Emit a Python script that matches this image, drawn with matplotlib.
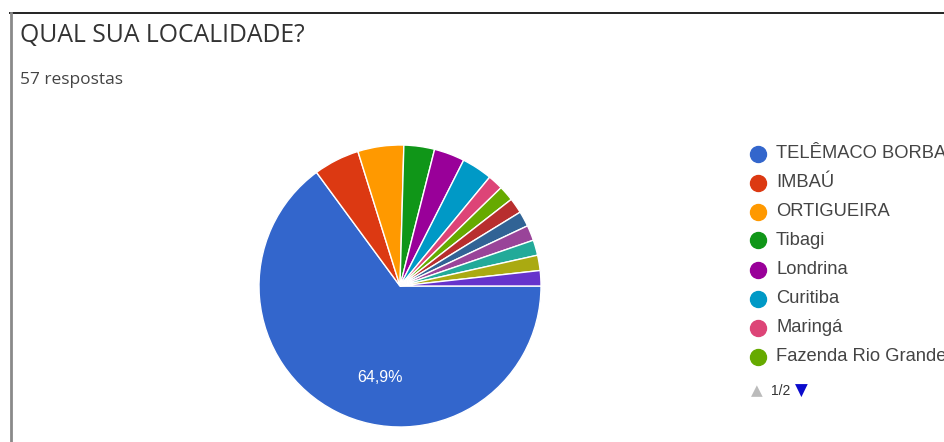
import matplotlib.pyplot as plt
from matplotlib.lines import Line2D

# respostas por localidade (57 no total)
contagens = [37, 3, 3, 2, 2, 2, 1, 1, 1, 1, 1, 1, 1, 1]
cores = ["#3366cc", "#dc3912", "#ff9900", "#109618", "#990099", "#0099c6",
         "#dd4477", "#66aa00", "#b82e2e", "#316395", "#994499", "#22aa99",
         "#aaaa11", "#6633cc"]
# primeira página da legenda
rotulosLegenda = ["TELÊMACO BORBA", "IMBAÚ", "ORTIGUEIRA", "Tibagi",
                  "Londrina", "Curitiba", "Maringá", "Fazenda Rio Grande"]
titulo = "QUAL SUA LOCALIDADE?"
totalRespostas = 57

W, H = 945, 442
fig = plt.figure(figsize=(W / 100, H / 100), dpi=100)
fig.patch.set_facecolor("white")


def fx(px):
    return px / W


def fy(py):
    return 1 - py / H


# moldura do cartão
fig.add_artist(Line2D([fx(10), fx(945)], [fy(13), fy(13)], color="#222222", lw=1.4))
fig.add_artist(Line2D([fx(10.5), fx(10.5)], [fy(13), fy(442)], color="#8a8a8a", lw=2))

fig.text(fx(20), fy(36), titulo, fontsize=17.8, family="Open Sans", color="#333333",
         va="center", ha="left")
fig.text(fx(20), fy(80), f"{totalRespostas} respostas", fontsize=12.5,
         family="Open Sans", color="#444444", va="center", ha="left")

cx, cy, r = 400, 286, 141
axe = fig.add_axes([fx(cx - r), fy(cy + r), 2 * r / W, 2 * r / H])
fatias, _ = axe.pie(contagens, colors=cores, startangle=0, counterclock=False,
                    radius=1, wedgeprops=dict(edgecolor="white", linewidth=1))
axe.set_xlim(-1, 1)
axe.set_ylim(-1, 1)
axe.set_aspect("auto")
axe.axis("off")

# rótulo percentual da maior fatia
pct = contagens[0] / sum(contagens) * 100
fig.text(fx(380), fy(378), f"{pct:.1f}%".replace(".", ","), fontsize=11.5,
         family="Liberation Sans", color="white", ha="center", va="center")

# legenda manual
y0, passo = 153.5, 29
for i, rotulo in enumerate(rotulosLegenda):
    y = y0 + i * passo
    fig.add_artist(Line2D([fx(758)], [fy(y)], marker="o", markersize=11.5,
                          markerfacecolor=cores[i], markeredgecolor=cores[i], lw=0))
    fig.text(fx(776), fy(y), rotulo, fontsize=13.2, family="Liberation Sans",
             color="#444444", ha="left", va="center")

# paginação
fig.text(fx(757), fy(391), "▲", fontsize=11, family="DejaVu Sans", color="#bbbbbb",
         ha="center", va="center")
fig.text(fx(771), fy(391), "1/2", fontsize=10, family="Liberation Sans",
         color="#333333", ha="left", va="center")
fig.text(fx(801), fy(391), "▼", fontsize=12, family="DejaVu Sans", color="#0b0bcc",
         ha="center", va="center")

fig.savefig("out.png", dpi=100)
